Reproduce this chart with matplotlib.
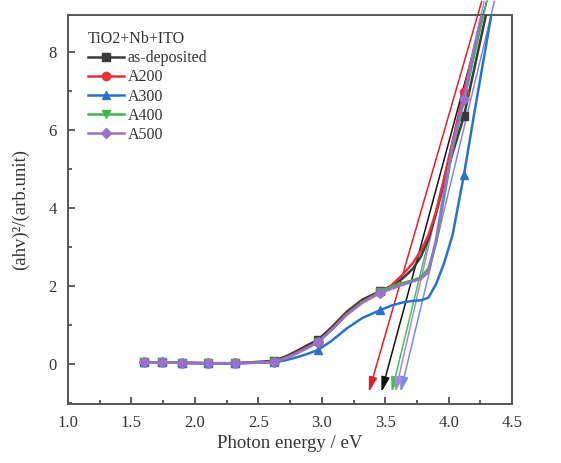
import matplotlib
matplotlib.use("Agg")
import matplotlib.pyplot as plt
from matplotlib.ticker import MultipleLocator

plt.rcParams['font.family'] = ['Liberation Serif', 'DejaVu Serif']

# ---- data ----
energy = [1.60, 1.74, 1.90, 2.10, 2.32, 2.62, 2.72, 2.80, 2.88, 2.97, 3.08, 3.20, 3.32, 3.46,
          3.55, 3.64, 3.72, 3.78, 3.84, 3.90, 3.96, 4.03, 4.12, 4.20, 4.28, 4.36]
marker_idx = [0, 1, 2, 3, 4, 5, 9, 13, 22]

as_deposited = [0.05, 0.04, 0.03, 0.02, 0.02, 0.08, 0.20, 0.33, 0.47, 0.62, 0.95, 1.35, 1.65, 1.87,
                2.00, 2.20, 2.45, 2.75, 3.20, 3.85, 4.60, 5.40, 6.35, 7.55, 8.75, 9.90]
a200 = [0.05, 0.04, 0.03, 0.02, 0.02, 0.06, 0.17, 0.29, 0.42, 0.57, 0.90, 1.30, 1.60, 1.84,
        2.02, 2.30, 2.60, 2.90, 3.30, 3.90, 4.70, 5.70, 6.97, 8.05, 9.10, 10.2]
a300 = [0.05, 0.04, 0.03, 0.02, 0.02, 0.04, 0.10, 0.17, 0.25, 0.36, 0.60, 0.92, 1.18, 1.38,
        1.50, 1.58, 1.62, 1.63, 1.70, 2.05, 2.55, 3.30, 4.85, 6.40, 7.90, 9.40]
a400 = [0.05, 0.04, 0.03, 0.02, 0.02, 0.05, 0.15, 0.27, 0.40, 0.56, 0.88, 1.28, 1.58, 1.84,
        1.98, 2.08, 2.15, 2.22, 2.45, 3.10, 4.20, 5.50, 6.74, 7.90, 9.10, 10.2]
a500 = [0.05, 0.04, 0.03, 0.02, 0.02, 0.05, 0.15, 0.27, 0.40, 0.56, 0.88, 1.27, 1.57, 1.82,
        1.93, 2.03, 2.12, 2.18, 2.35, 3.20, 4.35, 5.60, 6.80, 8.10, 9.25, 10.3]

series_names = ["as-deposited", "A200", "A300", "A400", "A500"]
series_values = [as_deposited, a200, a300, a400, a500]

# tangent (Tauc) lines: intercept energy near the bottom and energy where they leave the top
tangent_x0 = [3.47, 3.37, 3.62, 3.55, 3.58]
tangent_x1 = [4.30, 4.26, 4.36, 4.30, 4.28]
tangent_y0 = -0.72
tangent_y1 = 9.3

legend_title = "TiO2+Nb+ITO"
x_label = "Photon energy / eV"
y_label = "(ahv)\u00b2/(arb.unit)"

# ---- styles ----
colors = ["#3a3a3a", "#e8323c", "#2a72c8", "#3fb54a", "#9a6fd0"]
arrow_colors = ["#111111", "#e01f2a", "#7f86e6", "#46c05a", "#a58be0"]
markers = ["s", "o", "^", "v", "D"]
msizes = [5.5, 6, 6, 6, 5]

fig = plt.figure(figsize=(5.61, 4.63), dpi=100)
ax = fig.add_axes([0.121, 0.127, 0.792, 0.841])

for name, vals, c, m, ms in zip(series_names, series_values, colors, markers, msizes):
    ax.plot(energy, vals, color=c, lw=1.8, marker=m, markersize=ms,
            markevery=marker_idx, label=name, zorder=3)

for x0, x1, c in zip(tangent_x0, tangent_x1, arrow_colors):
    ax.annotate("", xy=(x0, tangent_y0), xytext=(x1, tangent_y1),
                arrowprops=dict(arrowstyle="-|>,head_length=0.9,head_width=0.25",
                                color=c, lw=1.1, mutation_scale=10,
                                shrinkA=0, shrinkB=0),
                zorder=2, annotation_clip=False)

ax.set_xlim(1.0, 4.5)
ax.set_ylim(-1.03, 8.95)
ax.xaxis.set_major_locator(MultipleLocator(0.5))
ax.xaxis.set_minor_locator(MultipleLocator(0.25))
ax.yaxis.set_major_locator(MultipleLocator(2))
ax.yaxis.set_minor_locator(MultipleLocator(1))
ax.tick_params(which="both", direction="in", top=False, right=False,
               labelsize=12, colors="#444444", width=1.2)
ax.tick_params(which="major", length=5, pad=8)
ax.tick_params(which="minor", length=3)
for lbl in ax.get_xticklabels() + ax.get_yticklabels():
    lbl.set_color("#333333")
for sp in ax.spines.values():
    sp.set_color("#555555")
    sp.set_linewidth(1.4)

ax.set_xlabel(x_label, fontsize=13.5, color="#333333", labelpad=3)
ax.set_ylabel(y_label, fontsize=13.5, color="#333333", labelpad=14)

leg = ax.legend(title=legend_title, loc="upper left", frameon=False,
                fontsize=11.5, title_fontsize=11.5, handlelength=2.3,
                handletextpad=0.2, labelspacing=0.2,
                bbox_to_anchor=(0.03, 0.975), borderaxespad=0.0)
leg._legend_box.align = "left"
for t in leg.get_texts():
    t.set_color("#333333")
leg.get_title().set_color("#333333")

fig.savefig("out.png", dpi=100)
